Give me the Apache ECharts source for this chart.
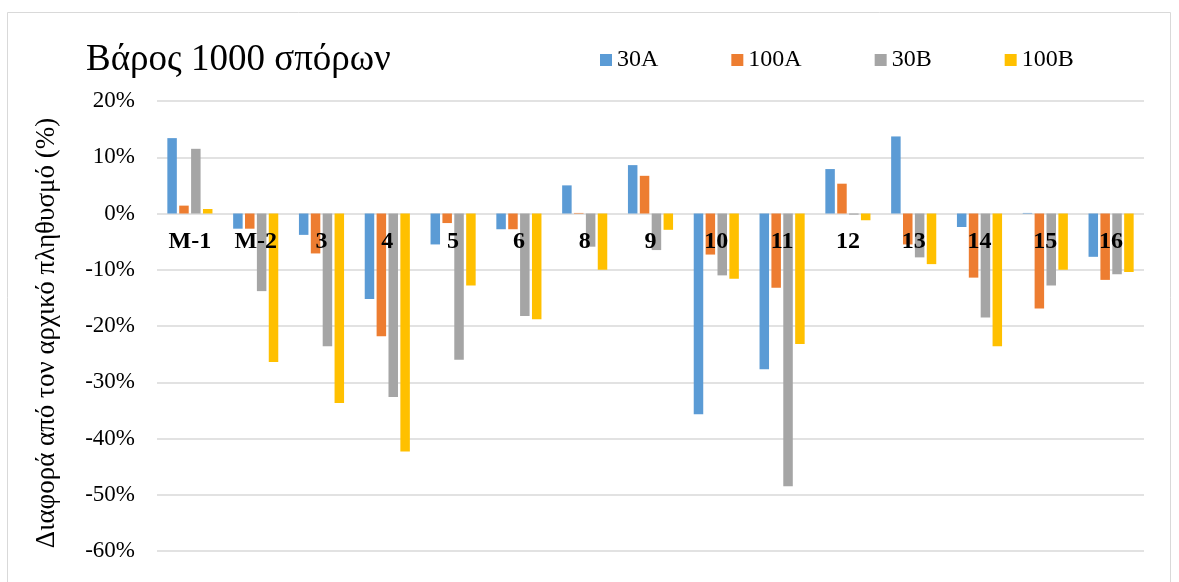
<!DOCTYPE html>
<html>
<head>
<meta charset="utf-8">
<script src="https://cdn.jsdelivr.net/npm/echarts@6/dist/echarts.min.js"></script>
<style>html,body{margin:0;padding:0;background:#fff}#c{width:1179px;height:582px}</style>
</head>
<body>
<div id="c"></div>
<script>
const categories = ['M-1','M-2','3','4','5','6','8','9','10','11','12','13','14','15','16'];
const s30A  = [13.4, -2.7, -3.8, -15.2, -5.5, -2.8, 5.0, 8.6, -35.7, -27.7, 7.9, 13.7, -2.4, 0.1, -7.7];
const s100A = [1.4, -2.7, -7.1, -21.8, -1.7, -2.8, 0.1, 6.7, -7.3, -13.2, 5.3, -5.5, -11.4, -16.9, -11.8];
const s30B  = [11.5, -13.8, -23.6, -32.6, -26.0, -18.2, -5.9, -6.5, -11.0, -48.5, -0.2, -7.8, -18.5, -12.8, -10.8];
const s100B = [0.8, -26.4, -33.7, -42.3, -12.8, -18.8, -10.0, -2.9, -11.6, -23.2, -1.2, -9.0, -23.6, -10.0, -10.4];
const seriesNames = ['30A','100A','30B','100B'];
const colors = ['#5B9BD5','#ED7D31','#A5A5A5','#FFC000'];
const yTicks = {min: -60, max: 20, interval: 10};

const font = 'Liberation Serif, Times New Roman, serif';
const chart = echarts.init(document.getElementById('c'));
const allData = [s30A, s100A, s30B, s100B];
const barSeries = seriesNames.map((n, i) => ({
  name: n, type: 'bar', data: allData[i], barWidth: 9.5, barGap: '25%',
  itemStyle: {color: colors[i]}
}));
// category labels sitting just under the zero line (drawn above the bars)
const labelSeries = {
  name: 'cat', type: 'scatter', z: 10, silent: true,
  data: categories.map(c => [c, 0]),
  symbolSize: 1, itemStyle: {color: 'rgba(0,0,0,0)'},
  label: {
    show: true, position: 'bottom', distance: 16, opacity: 1,
    formatter: p => p.value[0],
    fontFamily: font, fontSize: 24, fontWeight: 'bold', color: '#000'
  }
};
chart.setOption({
  animation: false,
  backgroundColor: '#fff',
  color: colors,
  title: {
    text: 'Βάρος 1000 σπόρων', left: 81, top: 37,
    textStyle: {fontFamily: font, fontSize: 37, fontWeight: 'normal', color: '#000'}
  },
  legend: {
    data: seriesNames, left: 595, top: 43, itemWidth: 12, itemHeight: 12, itemGap: 73,
    icon: 'rect',
    textStyle: {fontFamily: font, fontSize: 24, color: '#000'},
    itemStyle: {borderWidth: 0}
  },
  graphic: [{
    type: 'rect', shape: {x: 7.5, y: 12.5, width: 1163, height: 600},
    style: {fill: 'none', stroke: '#d9d9d9', lineWidth: 1}, silent: true
  }],
  grid: {left: 157, right: 35, top: 101, bottom: 31, containLabel: false, outerBoundsMode: 'none'},
  xAxis: {
    type: 'category', data: categories,
    axisLine: {show: false},
    axisTick: {show: false},
    axisLabel: {show: false}
  },
  yAxis: {
    type: 'value', min: yTicks.min, max: yTicks.max, interval: yTicks.interval,
    name: 'Διαφορά από τον αρχικό πληθυσμό (%)', nameLocation: 'middle', nameGap: 97,
    nameTextStyle: {fontFamily: font, fontSize: 27, color: '#000', padding: [0, 14, 0, 0]},
    axisLine: {show: false}, axisTick: {show: false},
    axisLabel: {formatter: '{value}%', fontFamily: font, fontSize: 23, color: '#000', margin: 22},
    splitLine: {lineStyle: {color: '#d9d9d9', width: 1.5}}
  },
  series: barSeries.concat([labelSeries])
});
</script>
</body>
</html>
